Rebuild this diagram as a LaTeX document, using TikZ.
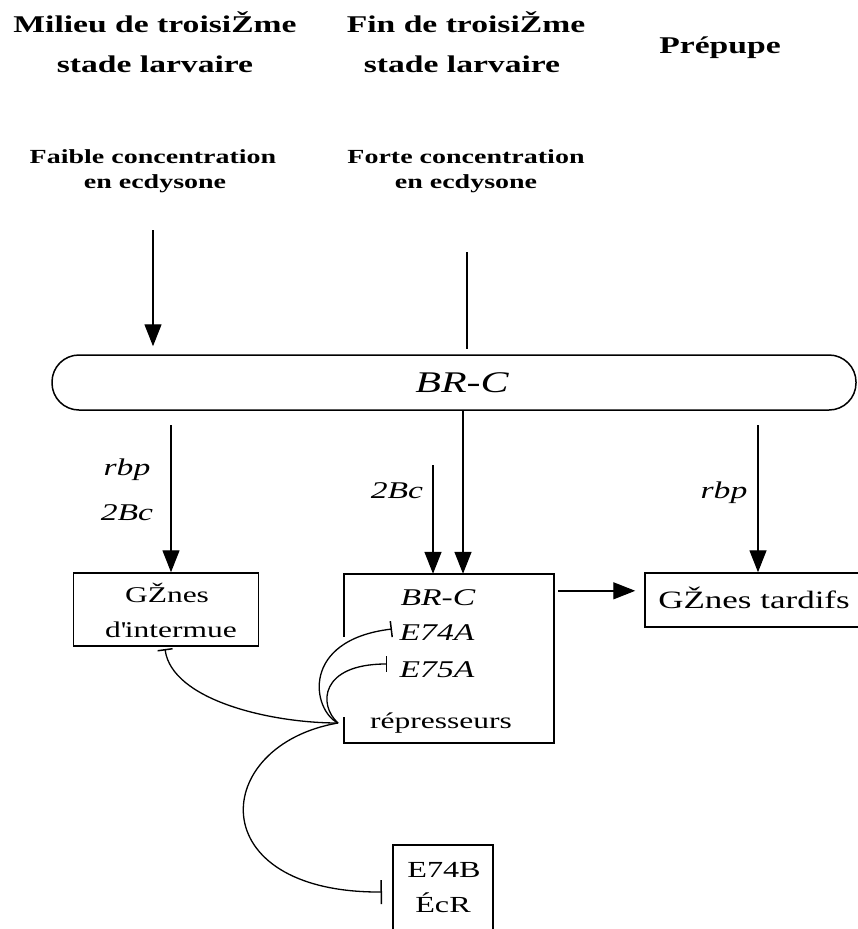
\documentclass[tikz,border=0pt]{standalone}
\usepackage{fontspec}
\setmainfont{Liberation Serif}[FakeStretch=1.4]
\usetikzlibrary{arrows.meta,calc}
\begin{document}
\begin{tikzpicture}[x=1pt,y=-1pt,
  txt/.style={anchor=base,inner sep=0pt},
  hdr/.style={txt,font=\fontsize{24}{28}\selectfont\bfseries},
  conc/.style={txt,font=\fontsize{20}{24}\selectfont\bfseries},
  lbl/.style={txt,font=\fontsize{24}{28}\selectfont\itshape},
  boxtxt/.style={txt,font=\fontsize{25}{30}\selectfont},
  boxtxtm/.style={txt,font=\fontsize{22.5}{27}\selectfont},
  boxtxts/.style={txt,font=\fontsize{23}{28}\selectfont},
  boxtxti/.style={txt,font=\fontsize{24}{28}\selectfont\itshape},
  box/.style={draw,line width=1.5pt,inner sep=0pt},
  frame/.style={inner sep=0pt},
  arr/.style={line width=1.4pt,-{Triangle[length=22pt,width=17pt]}},
  ln/.style={line width=1.4pt},
  inh/.style={line width=1.3pt,-{Bar[width=16pt,line width=1.5pt]}},
]
\fill[white] (0,0) rectangle (857,929);
\useasboundingbox (0,0) rectangle (857,929);

% boxes
\node[box,rounded corners=27pt,minimum width=804pt,minimum height=55pt] (brc) at (454,382.5) {};
\node[box,minimum width=185pt,minimum height=73pt] (gi) at (166,609.5) {};
\node[frame,minimum width=210pt,minimum height=169pt] (mid) at (449,658.5) {};
\node[box,minimum width=225pt,minimum height=54pt] (gt) at (757.5,600) {};
\node[box,minimum width=100pt,minimum height=95pt] (eb) at (443,892.5) {};

% texts
\node[hdr] (h1a) at (155,32) {Milieu de troisiŽme};
\node[hdr] (h1b) at (155,72) {stade larvaire};
\node[hdr] (h2a) at (466,32) {Fin de troisiŽme};
\node[hdr] (h2b) at (462,72) {stade larvaire};
\node[hdr] (h3) at (720,53) {Prépupe};
\node[conc] (c1a) at (153,163) {Faible concentration};
\node[conc] (c1b) at (155,188) {en ecdysone};
\node[conc] (c2a) at (466,163) {Forte concentration};
\node[conc] (c2b) at (466,188) {en ecdysone};
\node[txt,font=\fontsize{30}{36}\selectfont\itshape] (brct) at (462,392) {BR-C};
\node[lbl] (l1) at (127,475) {rbp};
\node[lbl] (l2) at (127,520) {2Bc};
\node[lbl] (l3) at (397,498) {2Bc};
\node[lbl] (l4) at (724,498) {rbp};
\node[boxtxtm] (g1) at (167,602) {GŽnes};
\node[boxtxtm] (g2) at (171,637) {d\textquotesingle intermue};
\node[boxtxti] (m1) at (438,605) {BR-C};
\node[boxtxti] (m2) at (437,640) {E74A};
\node[boxtxti] (m3) at (437,677) {E75A};
\node[boxtxtm] (m4) at (441,728) {répresseurs};
\node[boxtxt] (t1) at (754,608) {GŽnes tardifs};
\node[boxtxts] (e1) at (444,877) {E74B};
\node[boxtxts] (e2) at (443,912) {ÉcR};

% middle box frame with a gap on its left side
\draw[line width=1.5pt] ($(mid.north west)+(0,63)$) -- (mid.north west) -- (mid.north east)
  -- (mid.south east) -- (mid.south west) -- ($(mid.south west)+(0,-26)$);

% arrows
\coordinate (s1) at (153,230);
\draw[arr,shorten >=8pt] (s1) -- (s1 |- brc.north);
\coordinate (s2) at (467,252);
\draw[ln,shorten >=5pt] (s2) -- (s2 |- brc.north);
\coordinate (d1) at (171,425);
\draw[arr] (d1) -- (d1 |- gi.north);
\coordinate (d2) at (463,0);
\draw[arr] (d2 |- brc.south) -- (d2 |- mid.north);
\coordinate (d3) at (433,465);
\draw[arr] (d3) -- (d3 |- mid.north);
\coordinate (d4) at (758,425);
\draw[arr] (d4) -- (d4 |- gt.north);
\coordinate (d5) at ($(mid.north east)+(4,17)$);
\draw[arr,shorten >=9pt] (d5) -- (d5 -| gt.west);

% inhibitions
\coordinate (r0) at (338,723);
\coordinate (bgi) at (165,649);
\coordinate (b74a) at (392,629);
\coordinate (b75a) at (387,664);
\coordinate (beb) at (382,892);
\draw[inh,-{Bar[width=15pt,line width=1.5pt]}] (r0) .. controls (270,723) and (172,700) .. (bgi);
\draw[inh] (r0) .. controls (312,710) and (300,640) .. (b74a);
\draw[inh] (r0) .. controls (318,705) and (320,664) .. (b75a);
\draw[inh,-{Bar[width=24pt,line width=1.5pt]}] (r0) .. controls (210,745) and (200,893) .. (beb);
\end{tikzpicture}
\end{document}
